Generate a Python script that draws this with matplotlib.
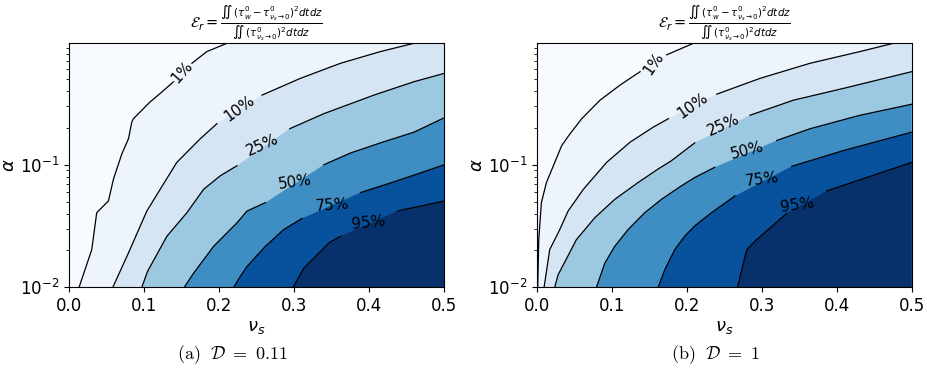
import numpy as np
import matplotlib
matplotlib.use('Agg')
import matplotlib.pyplot as plt

# ==========================================
# data
# contour lines: nu_s and alpha along each iso-line (bottom -> exit)
# ==========================================

levels = [0, 1, 10, 25, 50, 75, 95, 100]
level_names = ['1%', '10%', '25%', '50%', '75%', '95%']

alpha_min = 0.01
alpha_max = 0.98
nu_max = 0.5

# (a) D = 0.11
a_nu_1 = [0.0138, 0.0307, 0.0373, 0.0529, 0.0596, 0.0707, 0.0796, 0.084, 0.0862, 0.1084, 0.1218, 0.1396, 0.164, 0.184, 0.2107]
a_al_1 = [0.01, 0.0203, 0.0406, 0.0507, 0.0764, 0.1225, 0.163, 0.2234, 0.2377, 0.326, 0.382, 0.476, 0.673, 0.839, 0.98]
a_nu_10 = [0.0587, 0.0796, 0.104, 0.1218, 0.144, 0.1751, 0.1973, 0.2573, 0.3084, 0.3618, 0.4151, 0.4596]
a_al_10 = [0.01, 0.0191, 0.0419, 0.0631, 0.1047, 0.163, 0.2163, 0.37, 0.507, 0.673, 0.839, 0.98]
a_nu_25 = [0.0973, 0.1049, 0.1307, 0.1573, 0.1796, 0.2018, 0.224, 0.2942, 0.3396, 0.4062, 0.4596, 0.5]
a_al_25 = [0.01, 0.01346, 0.0261, 0.0406, 0.0631, 0.0813, 0.0982, 0.1968, 0.2612, 0.37, 0.476, 0.557]
a_nu_50 = [0.1538, 0.1662, 0.1929, 0.224, 0.2373, 0.2618, 0.3396, 0.3751, 0.4151, 0.4596, 0.5]
a_al_50 = [0.01, 0.01303, 0.0216, 0.0336, 0.0419, 0.0491, 0.1, 0.1247, 0.151, 0.1845, 0.242]
a_nu_75 = [0.2196, 0.2284, 0.2373, 0.2618, 0.2862, 0.3107, 0.3884, 0.4373, 0.5]
a_al_75 = [0.01, 0.01225, 0.0148, 0.0216, 0.0296, 0.0365, 0.0593, 0.074, 0.1]
a_nu_95 = [0.2987, 0.3129, 0.3462, 0.3618, 0.4373, 0.5]
a_al_95 = [0.01, 0.0143, 0.023, 0.0261, 0.0419, 0.0506]

# (b) D = 1
b_nu_1 = [0.0013, 0.0027, 0.0062, 0.0129, 0.0222, 0.0333, 0.0444, 0.06, 0.0844, 0.1111, 0.1378, 0.1733, 0.2089]
b_al_1 = [0.01, 0.0245, 0.0491, 0.0716, 0.0982, 0.1435, 0.179, 0.2377, 0.3365, 0.4467, 0.575, 0.789, 0.98]
b_nu_10 = [0.0098, 0.0173, 0.0307, 0.0418, 0.0622, 0.0933, 0.1244, 0.1556, 0.1756, 0.24, 0.2978, 0.3644, 0.4311, 0.4756]
b_al_10 = [0.01, 0.0203, 0.0296, 0.0419, 0.0631, 0.1047, 0.1528, 0.2032, 0.2377, 0.3767, 0.507, 0.673, 0.839, 0.98]
b_nu_25 = [0.024, 0.0284, 0.0529, 0.0773, 0.104, 0.1351, 0.1618, 0.1796, 0.2107, 0.2844, 0.3422, 0.4089, 0.5]
b_al_25 = [0.01, 0.01262, 0.0245, 0.0369, 0.0522, 0.0716, 0.0923, 0.1079, 0.151, 0.2535, 0.3365, 0.4198, 0.575]
b_nu_50 = [0.0796, 0.0907, 0.104, 0.1218, 0.144, 0.1662, 0.1929, 0.2107, 0.2373, 0.32, 0.3644, 0.4311, 0.5]
b_al_50 = [0.01, 0.01574, 0.0216, 0.0296, 0.0406, 0.0522, 0.0673, 0.0787, 0.0953, 0.1578, 0.1968, 0.2535, 0.3119]
b_nu_75 = [0.1618, 0.1707, 0.184, 0.1973, 0.2107, 0.2329, 0.2644, 0.34, 0.4089, 0.5]
b_al_75 = [0.01, 0.0139, 0.0203, 0.0261, 0.0317, 0.0406, 0.0557, 0.0971, 0.1306, 0.1845]
b_nu_95 = [0.2676, 0.28, 0.2933, 0.3111, 0.3333, 0.3867, 0.44, 0.5]
b_al_95 = [0.01, 0.0203, 0.0245, 0.0305, 0.0401, 0.0612, 0.0787, 0.1047]

# index after which the inline label breaks each line
a_gaps = [11, 6, 6, 5, 5, 3]
b_gaps = [10, 8, 8, 8, 6, 4]

# label placement (nu_s, alpha, rotation)
a_labels = [(0.1507, 0.5675, 48), (0.2276, 0.287, 36), (0.2582, 0.1462, 24),
            (0.3018, 0.0716, 8), (0.3507, 0.047, 4), (0.3996, 0.0336, 6)]
b_labels = [(0.1556, 0.6745, 55), (0.2076, 0.306, 35), (0.2489, 0.2094, 24),
            (0.2809, 0.1306, 14), (0.30, 0.0753, 7), (0.3476, 0.0467, 8)]

panels = [
    {'nu': [a_nu_1, a_nu_10, a_nu_25, a_nu_50, a_nu_75, a_nu_95],
     'al': [a_al_1, a_al_10, a_al_25, a_al_50, a_al_75, a_al_95],
     'gaps': a_gaps, 'labels': a_labels,
     'caption': r'$\mathrm{(a)}\ \ \mathcal{D}\ =\ 0.11$', 'cap_x': 0.2513},
    {'nu': [b_nu_1, b_nu_10, b_nu_25, b_nu_50, b_nu_75, b_nu_95],
     'al': [b_al_1, b_al_10, b_al_25, b_al_50, b_al_75, b_al_95],
     'gaps': b_gaps, 'labels': b_labels,
     'caption': r'$\mathrm{(b)}\ \ \mathcal{D}\ =\ 1$', 'cap_x': 0.7713},
]

title = (r'$\mathcal{E}_r = \frac{\iint\,(\tau_w^0 - \tau^0_{\nu_s \to 0})^2 dtdz}'
         r'{\iint\,(\tau^0_{\nu_s \to 0})^2 dtdz}$')

# colours like contourf: layer midpoints through Blues
mids = [(levels[i] + levels[i + 1]) / 2 for i in range(len(levels) - 1)]
norm = plt.Normalize(min(mids), max(mids))
colors = [plt.cm.Blues(norm(m)) for m in mids]

fig = plt.figure(figsize=(9.27, 3.79), dpi=100)
axes_pos = [[0.0741, 0.2419, 0.4052, 0.6439], [0.579, 0.2419, 0.4045, 0.6439]]

for pos, p in zip(axes_pos, panels):
    ax = fig.add_axes(pos)
    ax.set_yscale('log')
    ax.set_facecolor(colors[0])

    for k in range(len(p['nu'])):
        nu = list(p['nu'][k])
        al = list(p['al'][k])
        # close the region with higher values towards the lower-right corner
        if nu[-1] < nu_max:
            nu.append(nu_max); al.append(alpha_max)
        nu.append(nu_max); al.append(alpha_min)
        ax.fill(nu, al, color=colors[k + 1], lw=0, zorder=1)

    for k in range(len(p['nu'])):
        nu = p['nu'][k]; al = p['al'][k]; g = p['gaps'][k]
        ax.plot(nu[:g + 1], al[:g + 1], color='black', lw=0.9, zorder=2)
        ax.plot(nu[g + 1:], al[g + 1:], color='black', lw=0.9, zorder=2)
        x, y, rot = p['labels'][k]
        ax.text(x, y, level_names[k], rotation=rot, rotation_mode='anchor',
                ha='center', va='center', fontsize=11, zorder=3)

    ax.set_xlim(0, nu_max)
    ax.set_ylim(alpha_min, alpha_max)
    ax.set_xticks([0.0, 0.1, 0.2, 0.3, 0.4, 0.5])
    ax.tick_params(labelsize=12)
    ax.set_xlabel(r'$\nu_s$', fontsize=13, labelpad=2)
    ax.set_ylabel(r'$\alpha$', fontsize=13)
    ax.yaxis.set_label_coords(-0.135, 0.5)
    ax.set_title(title, fontsize=10.5, pad=3)

    fig.text(p['cap_x'], 0.063, p['caption'], ha='center', va='center',
             fontsize=13, math_fontfamily='cm')

plt.savefig('out.png', dpi=100)
plt.close(fig)
